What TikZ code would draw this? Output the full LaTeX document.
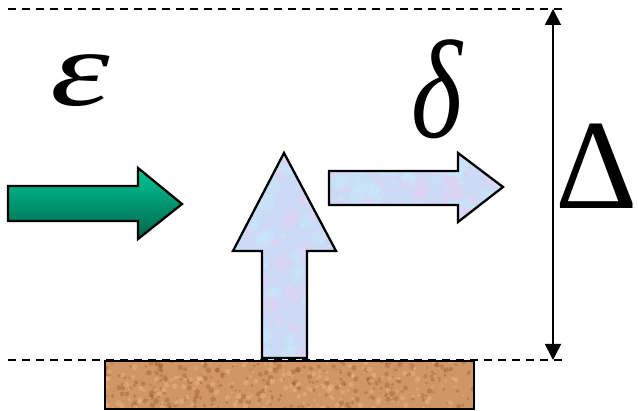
\documentclass[tikz,border=0pt]{standalone}
\usepackage{fontspec}
\setmainfont{Liberation Serif}
\usetikzlibrary{arrows.meta}
\definecolor{greentop}{RGB}{0,200,148}
\definecolor{greenbot}{RGB}{0,100,76}
\definecolor{icebl}{RGB}{204,218,246}
\definecolor{icecy}{RGB}{200,230,248}
\definecolor{icepk}{RGB}{225,210,242}
\definecolor{sand}{RGB}{208,150,100}
\definecolor{sanddk}{RGB}{150,85,35}
\definecolor{sandlt}{RGB}{235,185,135}
\tikzset{
  shapeline/.style={draw=black,line width=2.3pt,line join=miter},
  greenarrow/.style={shapeline,top color=greentop,bottom color=greenbot},
  guide/.style={line width=2.3pt,dash pattern=on 8pt off 6pt},
  dimline/.style={line width=1.6pt,{Triangle[width=16pt,length=16pt]}-{Triangle[width=16pt,length=16pt]}},
  bigsym/.style={inner sep=0pt,text=black}
}
\begin{document}
\begin{tikzpicture}[x=1pt,y=-1pt]
\useasboundingbox (0,0) rectangle (638,411);
\pgfmathsetseed{7}
% guide lines
\coordinate (tl) at (8,9);
\coordinate (tr) at (562,9);
\coordinate (bl) at (8,360);
\coordinate (br) at (562,360);
\draw[guide] (tl) -- (tr);
\draw[guide] (bl) -- (br);
% ground block
\fill[sand] (105,361) rectangle (474,409);
\begin{scope}
\clip (105,361) rectangle (474,409);
\foreach \i in {1,...,260}{
  \pgfmathsetmacro{\px}{105+369*rnd}
  \pgfmathsetmacro{\py}{361+48*rnd}
  \pgfmathsetmacro{\pr}{1+2*rnd}
  \fill[sanddk,opacity=0.35] (\px,\py) circle (\pr pt);
}
\foreach \i in {1,...,200}{
  \pgfmathsetmacro{\px}{105+369*rnd}
  \pgfmathsetmacro{\py}{361+48*rnd}
  \pgfmathsetmacro{\pr}{1+2*rnd}
  \fill[sandlt,opacity=0.5] (\px,\py) circle (\pr pt);
}
\end{scope}
\draw[shapeline,line width=2pt] (105,361) rectangle (474,409);
% green arrow
\draw[greenarrow] (8,186) -- (138,186) -- (138,168) -- (182,204) -- (138,239) -- (138,221) -- (8,221) -- cycle;
% vertical ice arrow
\def\vpath{(262,358) -- (262,251) -- (233,251) -- (284,153) -- (336,251) -- (307,251) -- (307,358) -- cycle}
\fill[icebl] \vpath;
\begin{scope}
\clip \vpath;
\foreach \i in {1,...,60}{
  \pgfmathsetmacro{\px}{233+103*rnd}
  \pgfmathsetmacro{\py}{153+205*rnd}
  \pgfmathsetmacro{\pr}{3+6*rnd}
  \fill[icecy,opacity=0.6] (\px,\py) circle (\pr pt);
}
\foreach \i in {1,...,40}{
  \pgfmathsetmacro{\px}{233+103*rnd}
  \pgfmathsetmacro{\py}{153+205*rnd}
  \pgfmathsetmacro{\pr}{3+6*rnd}
  \fill[icepk,opacity=0.6] (\px,\py) circle (\pr pt);
}
\end{scope}
\draw[shapeline] \vpath;
% horizontal ice arrow
\def\hpath{(329,171) -- (458,171) -- (458,153) -- (503,187) -- (458,222) -- (458,205) -- (329,205) -- cycle}
\fill[icebl] \hpath;
\begin{scope}
\clip \hpath;
\foreach \i in {1,...,60}{
  \pgfmathsetmacro{\px}{329+174*rnd}
  \pgfmathsetmacro{\py}{153+69*rnd}
  \pgfmathsetmacro{\pr}{3+6*rnd}
  \fill[icecy,opacity=0.6] (\px,\py) circle (\pr pt);
}
\foreach \i in {1,...,40}{
  \pgfmathsetmacro{\px}{329+174*rnd}
  \pgfmathsetmacro{\py}{153+69*rnd}
  \pgfmathsetmacro{\pr}{3+6*rnd}
  \fill[icepk,opacity=0.6] (\px,\py) circle (\pr pt);
}
\end{scope}
\draw[shapeline] \hpath;
% dimension
\coordinate (dt) at (553,9);
\coordinate (db) at (553,360);
\draw[dimline] (dt) -- (db);
% symbols
\node[bigsym,font=\fontsize{108}{108}\selectfont\itshape] (eps) at (80,81) {\scalebox{1.4}[1]{ε}};
\node[bigsym,font=\fontsize{140}{140}\selectfont\itshape] (del) at (436.5,89) {\scalebox{0.78}[1]{δ}};
\node[bigsym,font=\fontsize{128}{128}\selectfont] (Del) at (597,166) {Δ};
\end{tikzpicture}
\end{document}
